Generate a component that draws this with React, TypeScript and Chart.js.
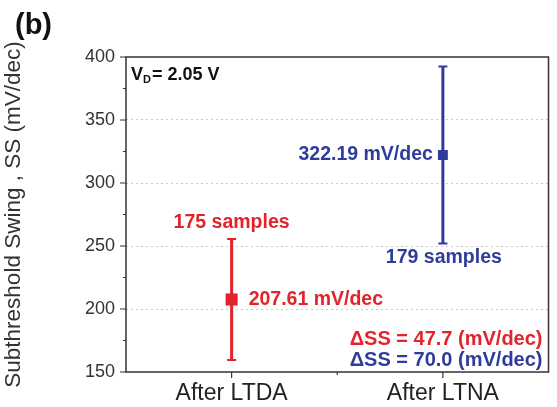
import React, { useEffect, useRef } from 'react';
import { Chart, registerables } from 'chart.js';

Chart.register(...registerables);

const categories = ['After LTDA', 'After LTNA'];
const meanSS = [207.61, 322.19];
const lowerSS = [159.5, 252.0];
const upperSS = [255.5, 392.5];
const sampleLabels = ['175 samples', '179 samples'];
const meanLabels = ['207.61 mV/dec', '322.19 mV/dec'];
const deltaLabels = ['ΔSS = 47.7 (mV/dec)', 'ΔSS = 70.0 (mV/dec)'];
const seriesColors = ['#e3232b', '#2e3c9c'];
const yMin = 150;
const yMax = 400;
const yStep = 50;
const yMinorStep = 25;
const yTitle = 'Subthreshold Swing , SS (mV/dec)';
const panelLabel = '(b)';

const FONT = 'Arial, "Liberation Sans", Helvetica, sans-serif';

const overlay = {
  id: 'overlay',
  beforeDatasetsDraw(chart: any) {
    const { ctx, scales } = chart;
    const x = scales.x;
    const y = scales.y;
    ctx.save();
    categories.forEach((_c, i) => {
      const px = x.getPixelForValue(i);
      const top = y.getPixelForValue(upperSS[i]);
      const bot = y.getPixelForValue(lowerSS[i]);
      ctx.strokeStyle = seriesColors[i];
      ctx.lineWidth = 3;
      ctx.beginPath();
      ctx.moveTo(px, top);
      ctx.lineTo(px, bot);
      ctx.stroke();
      ctx.lineWidth = 2;
      ctx.beginPath();
      ctx.moveTo(px - 4.5, top);
      ctx.lineTo(px + 4.5, top);
      ctx.moveTo(px - 4.5, bot);
      ctx.lineTo(px + 4.5, bot);
      ctx.stroke();
    });
    ctx.restore();
  },
  afterDraw(chart: any) {
    const { ctx, chartArea: a, scales } = chart;
    const x = scales.x;
    const y = scales.y;
    ctx.save();
    // frame
    ctx.strokeStyle = '#333';
    ctx.lineWidth = 1.5;
    ctx.strokeRect(a.left, a.top, a.right - a.left, a.bottom - a.top);
    // y ticks
    ctx.lineWidth = 1.2;
    ctx.beginPath();
    for (let v = yMin; v <= yMax; v += yMinorStep) {
      const py = y.getPixelForValue(v);
      const major = (v - yMin) % yStep === 0;
      ctx.moveTo(a.left, py);
      ctx.lineTo(a.left - (major ? 6 : 3), py);
    }
    // x ticks
    for (let i = 0; i < categories.length; i++) {
      const px = x.getPixelForValue(i);
      ctx.moveTo(px, a.bottom);
      ctx.lineTo(px, a.bottom + 6);
    }
    for (let i = 0; i < categories.length - 1; i++) {
      const px = (x.getPixelForValue(i) + x.getPixelForValue(i + 1)) / 2;
      ctx.moveTo(px, a.bottom);
      ctx.lineTo(px, a.bottom + 3);
    }
    ctx.stroke();

    // panel label
    ctx.fillStyle = '#111';
    ctx.font = `bold 29px ${FONT}`;
    ctx.textBaseline = 'alphabetic';
    ctx.textAlign = 'left';
    ctx.fillText(panelLabel, 15, 34);

    // V_D label
    ctx.font = `bold 18px ${FONT}`;
    let tx = a.left + 5;
    const base = a.top + 23;
    ctx.fillText('V', tx, base);
    tx += ctx.measureText('V').width;
    ctx.font = `bold 11px ${FONT}`;
    ctx.fillText('D', tx, base + 3);
    tx += ctx.measureText('D').width + 1;
    ctx.font = `bold 18px ${FONT}`;
    ctx.fillText('= 2.05 V', tx, base);

    ctx.font = `bold 19.5px ${FONT}`;
    ctx.textBaseline = 'middle';
    // red annotations
    const px0 = x.getPixelForValue(0);
    ctx.fillStyle = seriesColors[0];
    ctx.textAlign = 'center';
    ctx.fillText(sampleLabels[0], px0, y.getPixelForValue(upperSS[0]) - 16);
    ctx.textAlign = 'left';
    ctx.fillText(meanLabels[0], px0 + 17, y.getPixelForValue(meanSS[0]));
    // blue annotations
    const px1 = x.getPixelForValue(1);
    ctx.fillStyle = seriesColors[1];
    ctx.textAlign = 'right';
    ctx.fillText(meanLabels[1], px1 - 10, y.getPixelForValue(meanSS[1]));
    ctx.textAlign = 'center';
    ctx.fillText(sampleLabels[1], px1 + 1, y.getPixelForValue(lowerSS[1]) + 14);
    // delta labels
    ctx.font = `bold 20px ${FONT}`;
    ctx.textAlign = 'right';
    ctx.fillStyle = seriesColors[0];
    ctx.fillText(deltaLabels[0], a.right - 6, a.bottom - 33);
    ctx.fillStyle = seriesColors[1];
    ctx.fillText(deltaLabels[1], a.right - 6, a.bottom - 12);
    ctx.restore();
  },
};

export default function App() {
  const ref = useRef<HTMLCanvasElement | null>(null);
  useEffect(() => {
    if (!ref.current) return;
    const chart = new Chart(ref.current, {
      type: 'line',
      data: {
        labels: categories,
        datasets: categories.map((_c, i) => ({
          label: categories[i],
          data: categories.map((_d, j) => (j === i ? meanSS[i] : null)),
          showLine: false,
          pointStyle: 'rect',
          pointRadius: i === 0 ? 8.5 : 7,
          pointBackgroundColor: seriesColors[i],
          pointBorderColor: seriesColors[i],
          pointBorderWidth: 0,
          borderColor: seriesColors[i],
          backgroundColor: seriesColors[i],
        })),
      },
      options: {
        animation: false,
        responsive: true,
        maintainAspectRatio: false,
        layout: { padding: { top: 57, right: 3, left: 0, bottom: 0 } },
        plugins: { legend: { display: false }, tooltip: { enabled: false } },
        scales: {
          x: {
            type: 'category',
            offset: true,
            grid: { display: false, drawTicks: false },
            border: { display: false },
            ticks: {
              color: '#222',
              font: { family: FONT, size: 23 },
              padding: 8,
              maxRotation: 0,
            },
            afterFit: (s: any) => {
              s.height = 35;
            },
          },
          y: {
            min: yMin,
            max: yMax,
            border: { display: false, dash: [2, 3] },
            grid: {
              drawTicks: false,
              color: (c: any) => {
                const v = c.tick && c.tick.value;
                return v > yMin && v < yMax ? '#c9c9c9' : 'rgba(0,0,0,0)';
              },
              lineWidth: 1,
            },
            ticks: {
              stepSize: yStep,
              color: '#333',
              font: { family: FONT, size: 18 },
              padding: 11,
            },
            title: {
              display: true,
              text: yTitle,
              color: '#333',
              font: { family: FONT, size: 22.5 },
              padding: 0,
            },
            afterFit: (s: any) => {
              s.width = 126;
            },
          },
        },
      },
      plugins: [overlay],
    } as any);
    return () => chart.destroy();
  }, []);
  return (
    <div style={{ position: 'fixed', left: 0, top: 0, width: 557, height: 407, background: '#fff' }}>
      <canvas ref={ref} />
    </div>
  );
}
